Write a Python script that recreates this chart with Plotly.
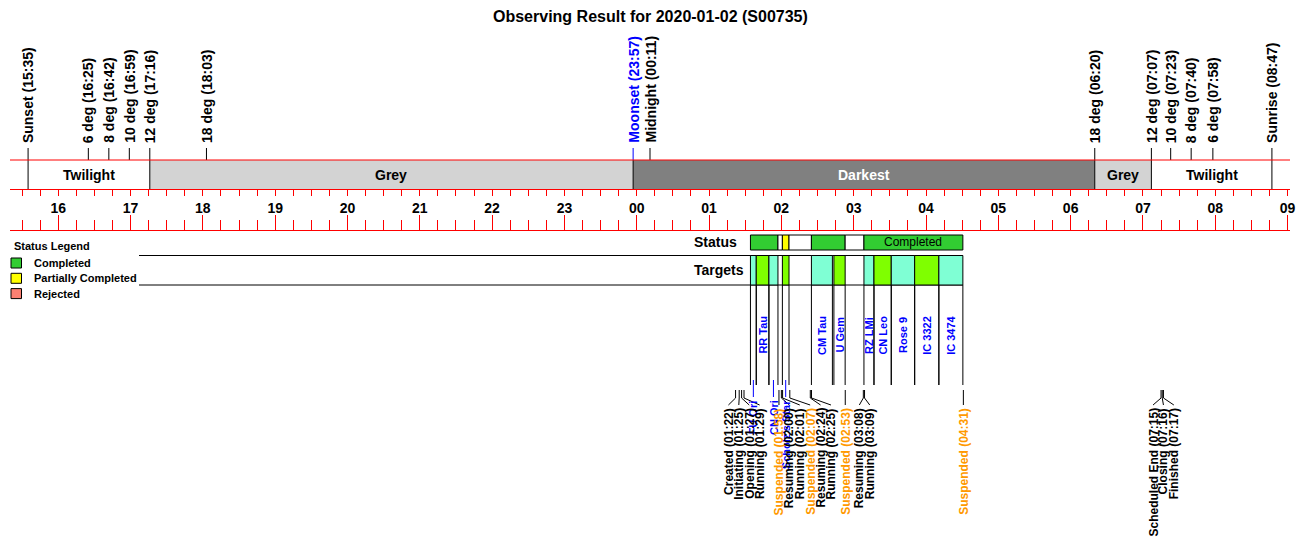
import plotly.graph_objects as go

# ---------------- data ----------------
TITLE = "Observing Result for 2020-01-02 (S00735)"

sky_names = ["Sunset", "6 deg", "8 deg", "10 deg", "12 deg", "18 deg", "Moonset", "Midnight",
             "18 deg", "12 deg", "10 deg", "8 deg", "6 deg", "Sunrise"]
sky_times = ["15:35", "16:25", "16:42", "16:59", "17:16", "18:03", "23:57", "00:11",
             "06:20", "07:07", "07:23", "07:40", "07:58", "08:47"]
sky_colors = ["black"] * 6 + ["blue"] + ["black"] * 7

phase_names = ["Twilight", "Grey", "Darkest", "Grey", "Twilight"]
phase_starts = ["15:35", "17:16", "23:57", "06:20", "07:07"]
phase_ends = ["17:16", "23:57", "06:20", "07:07", "08:47"]
phase_fills = ["#FFFFFF", "#D3D3D3", "#808080", "#D3D3D3", "#FFFFFF"]
phase_text_colors = ["black", "black", "white", "black", "black"]

hour_values = list(range(16, 34))
hour_labels = ["16", "17", "18", "19", "20", "21", "22", "23", "00",
               "01", "02", "03", "04", "05", "06", "07", "08", "09"]

legend_names = ["Completed", "Partially Completed", "Rejected"]
legend_colors = ["#32CD32", "#FFFF00", "#FA8072"]

status_starts = ["01:34:20", "01:57:10", "02:00:50", "02:06:20", "02:24:55", "02:52:55", "03:08:30"]
status_ends = ["01:57:10", "02:00:50", "02:06:20", "02:24:55", "02:52:55", "03:08:30", "04:30:35"]
status_states = ["Completed", None, "Partially Completed", None, "Completed", None, "Completed"]

target_names = ["FU Ori", "RR Tau", "CN Ori", "Scholz's Star", "CM Tau", "U Gem",
                "RZ LMi", "CN Leo", "Rose 9", "IC 3322", "IC 3474"]
target_starts = ["01:34:20", "01:39:10", "01:49:40", "02:00:50", "02:24:55", "02:43:35",
                 "03:08:30", "03:16:50", "03:31:10", "03:50:35", "04:10:40"]
target_ends = ["01:39:10", "01:49:40", "01:57:10", "02:06:20", "02:42:20", "02:52:55",
               "03:16:50", "03:31:10", "03:50:35", "04:10:40", "04:30:35"]
target_fills = ["#7FFFD4", "#7FFF00"]

log_events = ["Created", "Initiating", "Opening", "Running", "Suspended", "Resuming", "Running",
              "Suspended", "Resuming", "Running", "Suspended", "Resuming", "Running", "Suspended",
              "Scheduled End", "Closing", "Finished"]
log_times = ["01:22", "01:25", "01:27", "01:29", "01:58", "02:00", "02:01", "02:07", "02:24",
             "02:25", "02:53", "03:08", "03:09", "04:31", "07:15", "07:16", "07:17"]
log_colors = {"Suspended": "#FF9900"}

# ---------------- helpers ----------------
FONT = "Liberation Sans, Arial, sans-serif"
W, H = 1300, 560


def night_hours(t):
    parts = [int(p) for p in t.split(":")]
    while len(parts) < 3:
        parts.append(0)
    h = parts[0] + parts[1] / 60 + parts[2] / 3600
    return h + 24 if h < 12 else h


sunset = night_hours(sky_times[0])
sunrise = night_hours(sky_times[-1])
axis_lo, axis_hi = sunset - 0.25, sunrise + 0.25
AX_LEFT, AX_RIGHT = 10, 1290
pph = (AX_RIGHT - AX_LEFT) / (axis_hi - axis_lo)
x_lo = axis_lo - AX_LEFT / pph
x_hi = axis_hi + (W - AX_RIGHT) / pph


def px2h(px):
    return x_lo + px / pph


def h2px(h):
    return (h - x_lo) * pph


shapes = []
annotations = []


def line(x0, x1, y0, y1, color="black", width=1):
    shapes.append(dict(type="line", xref="x", yref="y", x0=x0, x1=x1, y0=y0, y1=y1,
                       line=dict(color=color, width=width)))


def rect(x0, x1, y0, y1, fill, border="black", width=1):
    shapes.append(dict(type="rect", xref="x", yref="y", x0=x0, x1=x1, y0=y0, y1=y1,
                       fillcolor=fill, line=dict(color=border, width=width)))


def text(x, y, s, size, color="black", angle=0, xanchor="center", yanchor="middle",
         bold=True, xref="x"):
    annotations.append(dict(x=x, y=y, xref=xref, yref="y", text=f"<b>{s}</b>" if bold else s,
                            showarrow=False, textangle=angle, xanchor=xanchor, yanchor=yanchor,
                            font=dict(family=FONT, size=size, color=color), borderpad=0))


# ---------------- sky band ----------------
Y_BAND_TOP, Y_BAND_BOT = 160, 189
for n, s, e, f, tc in zip(phase_names, phase_starts, phase_ends, phase_fills, phase_text_colors):
    hs, he = night_hours(s), night_hours(e)
    rect(hs, he, Y_BAND_TOP, Y_BAND_BOT, f, border="rgba(0,0,0,0)", width=0)
    text((hs + he) / 2, 174.5, n, 14, tc)

for n, t, c in zip(sky_names, sky_times, sky_colors):
    h = night_hours(t)
    line(h, h, 148, Y_BAND_TOP, c)
    text(h, 144, f"{n} ({t})", 14, c, angle=-90, yanchor="bottom")

boundaries = sorted(set([night_hours(s) for s in phase_starts] + [night_hours(phase_ends[-1])]))
for h in boundaries:
    line(h, h, Y_BAND_TOP, Y_BAND_BOT, "black")
line(axis_lo, axis_hi, Y_BAND_TOP, Y_BAND_TOP, "red")

# ---------------- legend ----------------
text(px2h(13), 246, "Status Legend", 11, xanchor="left")
for i, (n, c) in enumerate(zip(legend_names, legend_colors)):
    yc = 263 + 15.3 * i
    rect(px2h(11), px2h(21.5), yc - 5, yc + 5, c)
    text(px2h(33), yc, n, 11, xanchor="left")

# ---------------- status row ----------------
st_h = [night_hours(t) for t in status_starts]
en_h = [night_hours(t) for t in status_ends]
first_px = h2px(st_h[0])
text(px2h(first_px - 57), 241.5, "Status", 14, xanchor="left")
text(px2h(first_px - 57), 270, "Targets", 14, xanchor="left")

for s, e, state in zip(st_h, en_h, status_states):
    fill = legend_colors[legend_names.index(state)] if state else "#FFFFFF"
    rect(s, e, 235, 250, fill)
    if state and (e - s) * pph > 70:
        text((s + e) / 2, 242, state, 12, bold=False)

line(px2h(139), en_h[-1], 255.5, 255.5)
line(px2h(139), en_h[-1], 285, 285)

# ---------------- targets ----------------
for i, (n, s, e) in enumerate(zip(target_names, target_starts, target_ends)):
    hs, he = night_hours(s), night_hours(e)
    rect(hs, he, 255.5, 285, target_fills[i % 2])
    line(hs, hs, 285, 385)
    line(he, he, 285, 385)
    mid = (hs + he) / 2
    if (he - hs) * pph >= 9.5:
        text(mid, 335, n, 11, "blue", angle=-90)
    else:
        line(mid, mid, 380, 397, "blue")
        text(mid, 399, n, 11, "blue", angle=-90, yanchor="top")

# ---------------- log events ----------------
ev_px = [h2px(night_hours(t)) for t in log_times]
D = 10.4
lab = []
for i, p in enumerate(ev_px):
    lab.append(p if i == 0 else max(p, lab[-1] + D))
i = 0
while i < len(lab):
    j = i
    while j + 1 < len(lab) and lab[j + 1] > ev_px[j + 1] + 1e-6:
        j += 1
    cap = ev_px[j] + (j - i) * D / 2
    shift = max(0.0, lab[j] - cap)
    if i > 0:
        shift = min(shift, lab[i] - (lab[i - 1] + D))
    for k in range(i, j + 1):
        lab[k] -= shift
    i = j + 1

for n, t, p, lp in zip(log_events, log_times, ev_px, lab):
    c = log_colors.get(n, "black")
    line(px2h(p), px2h(p), 390, 398)
    line(px2h(p), px2h(lp), 398, 405)
    text(px2h(lp), 407, f"{n} ({t})", 12, c, angle=-90, yanchor="top")

# ---------------- title ----------------
text(0.5, 16, TITLE, 16, xref="paper")

# ---------------- figure ----------------
fig = go.Figure()
fig.add_trace(go.Scatter(x=[axis_lo], y=[H / 2], xaxis="x2", yaxis="y", mode="markers",
                         marker=dict(opacity=0), hoverinfo="skip"))
fig.add_trace(go.Scatter(x=[axis_lo], y=[H / 2], xaxis="x3", yaxis="y", mode="markers",
                         marker=dict(opacity=0), hoverinfo="skip"))

common = dict(range=[axis_lo, axis_hi], domain=[AX_LEFT / W, AX_RIGHT / W], anchor="free",
              side="bottom", showline=True, linecolor="red", linewidth=1, tickcolor="red",
              tickwidth=1, showgrid=False, zeroline=False, fixedrange=True, automargin=False,
              tickmode="array", tickvals=hour_values)

fig.update_layout(
    width=W, height=H, autosize=False, margin=dict(l=0, r=0, t=0, b=0, pad=0),
    paper_bgcolor="white", plot_bgcolor="rgba(0,0,0,0)", showlegend=False,
    xaxis=dict(range=[x_lo, x_hi], visible=False, domain=[0, 1], fixedrange=True,
               automargin=False),
    yaxis=dict(range=[H, 0], visible=False, domain=[0, 1], fixedrange=True, automargin=False),
    xaxis2=dict(common, position=1 - Y_BAND_BOT / H, ticks="outside", ticklen=6,
                ticktext=hour_labels,
                tickfont=dict(family=FONT, size=14, color="black", weight="bold"),
                minor=dict(tickmode="linear", tick0=0, dtick=0.25, ticks="outside", ticklen=6,
                           tickcolor="red", tickwidth=1, showgrid=False)),
    xaxis3=dict(common, position=1 - 230 / H, ticks="inside", ticklen=15, showticklabels=False,
                minor=dict(tickmode="linear", tick0=0, dtick=0.25, ticks="inside", ticklen=10,
                           tickcolor="red", tickwidth=1, showgrid=False)),
    shapes=shapes, annotations=annotations,
)

fig.write_html("out.html", config={"displayModeBar": False},
               post_script="document.body.style.margin='0px';")
